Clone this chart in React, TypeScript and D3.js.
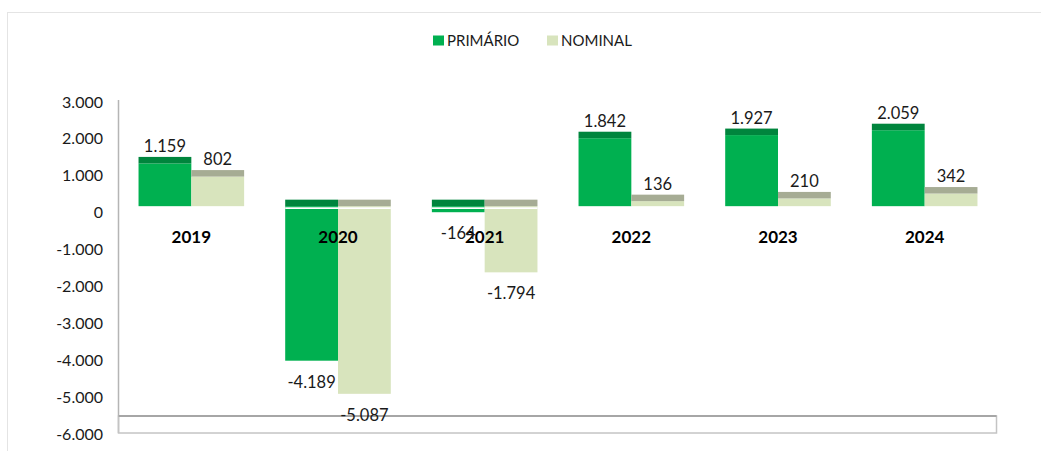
import React, { useEffect, useRef } from 'react';
import * as d3 from 'd3';

const years = ['2019', '2020', '2021', '2022', '2023', '2024'];
const series = ['PRIMÁRIO', 'NOMINAL'];
const primario = [1159, -4189, -164, 1842, 1927, 2059];
const nominal = [802, -5087, -1794, 136, 210, 342];
const yTicks = [3000, 2000, 1000, 0, -1000, -2000, -3000, -4000, -5000, -6000];

const frontColors = ['#00b050', '#d8e4bd'];
const topColors = ['#00853d', '#a6ac94'];

const App = () => {
    const chartRef = useRef<SVGSVGElement | null>(null);

    useEffect(() => {
        const width = 1041;
        const height = 451;
        const font = 'Lato, "Open Sans", sans-serif';
        const svg = d3.select(chartRef.current);
        svg.selectAll('*').remove();

        const locale = d3.formatLocale({ decimal: ',', thousands: '.', grouping: [3], currency: ['', ''], minus: '-' });
        const fmt = locale.format(',d');

        // card
        svg.append('rect')
            .attr('x', 7.5).attr('y', 12.5)
            .attr('width', width).attr('height', height)
            .attr('fill', 'white')
            .attr('stroke', '#e4e4e4');

        const x = d3.scaleBand<string>().domain(years).range([118, 998]).paddingInner(0.28).paddingOuter(0.14);
        const xs = d3.scaleBand<string>().domain(series).range([0, x.bandwidth()]);
        const y = d3.scaleLinear().domain([-6000, 3000]).range([433.5, 101.5]);
        const lift = 6; // front face offset (3D look)
        const depth = 6.5; // top face depth

        // y axis labels
        svg.append('g')
            .selectAll('text')
            .data(yTicks)
            .enter()
            .append('text')
            .attr('x', 103)
            .attr('y', (d) => y(d) + 6)
            .attr('text-anchor', 'end')
            .attr('font-family', font)
            .attr('font-size', 16)
            .attr('fill', '#1a1a1a')
            .text((d) => fmt(d));

        // axis line
        svg.append('line')
            .attr('x1', 118.5).attr('x2', 118.5)
            .attr('y1', 100).attr('y2', 433)
            .attr('stroke', '#b5b5b5').attr('stroke-width', 1.5);

        // floor
        svg.append('rect')
            .attr('x', 118.5).attr('y', 416)
            .attr('width', 878).attr('height', 17)
            .attr('fill', 'none')
            .attr('stroke', '#c4c4c4').attr('stroke-width', 1.5);
        svg.append('line')
            .attr('x1', 118.5).attr('x2', 996.5)
            .attr('y1', 416).attr('y2', 416)
            .attr('stroke', '#a6a6a6').attr('stroke-width', 2);

        const rows = years.flatMap((yr, i) => [
            { year: yr, s: series[0], k: 0, v: primario[i] },
            { year: yr, s: series[1], k: 1, v: nominal[i] },
        ]);

        const base = y(0) - lift;
        const bars = svg.append('g');
        rows.forEach((d) => {
            const bx = (x(d.year) as number) + (xs(d.s) as number);
            const bw = xs.bandwidth();
            const vy = y(d.v) - lift;
            const top = d.v >= 0 ? vy : base;
            // front face
            bars.append('rect')
                .attr('x', bx).attr('y', Math.min(vy, base))
                .attr('width', bw).attr('height', Math.abs(base - vy))
                .attr('fill', frontColors[d.k]);
            // top face
            bars.append('rect')
                .attr('x', bx).attr('y', top - depth)
                .attr('width', bw).attr('height', depth)
                .attr('fill', topColors[d.k]);
            if (d.v < 0) {
                bars.append('line')
                    .attr('x1', bx).attr('x2', bx + bw)
                    .attr('y1', base + 2).attr('y2', base + 2)
                    .attr('stroke', 'white').attr('stroke-width', 1.8);
            }
        });

        // category labels
        svg.append('g')
            .selectAll('text')
            .data(years)
            .enter()
            .append('text')
            .attr('x', (d) => (x(d) as number) + x.bandwidth() / 2)
            .attr('y', 243)
            .attr('text-anchor', 'middle')
            .attr('font-family', font)
            .attr('font-size', 17)
            .attr('font-weight', 'bold')
            .attr('fill', '#000')
            .text((d) => d);

        // value labels
        svg.append('g')
            .selectAll('text')
            .data(rows)
            .enter()
            .append('text')
            .attr('x', (d) => (x(d.year) as number) + (xs(d.s) as number) + xs.bandwidth() / 2)
            .attr('y', (d) => (d.v >= 0 ? y(d.v) - lift - depth - 5 : y(d.v) - lift + 27))
            .attr('text-anchor', 'middle')
            .attr('font-family', font)
            .attr('font-size', 16.5)
            .attr('fill', '#1a1a1a')
            .text((d) => fmt(d.v));

        // legend
        const legend = svg.append('g');
        const lx = [433, 547];
        series.forEach((s, i) => {
            legend.append('rect')
                .attr('x', lx[i]).attr('y', 35.5)
                .attr('width', 11).attr('height', 10)
                .attr('fill', frontColors[i]);
            legend.append('text')
                .attr('x', lx[i] + 14).attr('y', 45.5)
                .attr('font-family', font)
                .attr('font-size', 15)
                .attr('fill', '#1a1a1a')
                .text(s);
        });
    }, []);

    return (
        <svg
            ref={chartRef}
            width={1041}
            height={451}
            style={{ position: 'absolute', left: 0, top: 0, display: 'block' }}
        />
    );
};

export default App;
